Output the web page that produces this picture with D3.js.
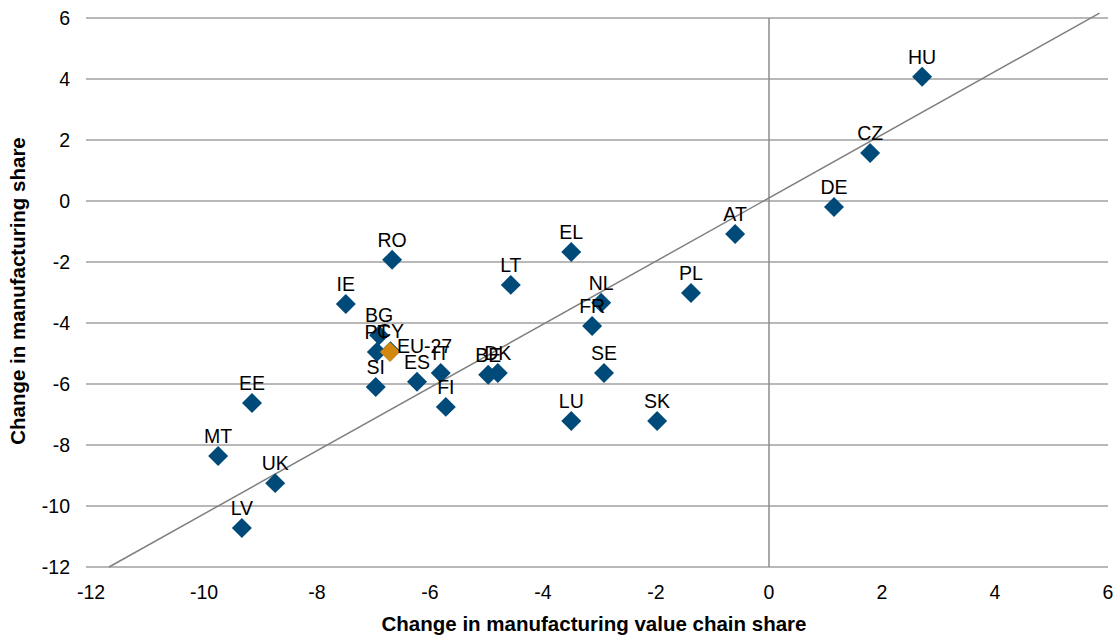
<!DOCTYPE html>
<html><head><meta charset="utf-8">
<script src="https://cdn.jsdelivr.net/npm/d3@7"></script>
<style>body{margin:0;background:#fff}svg{display:block}text{font-family:"Liberation Sans",Arial,sans-serif}</style>
</head><body><svg id="c" width="1120" height="635"></svg>
<script>
const countries = ["HU","CZ","DE","AT","PL","EL","LT","NL","FR","SE","SK","LU","RO","IE","BG","PT","CY","SI","ES","IT","FI","BE","DK","EE","MT","UK","LV"];
const valueChainShare = [2.71,1.79,1.15,-0.60,-1.38,-3.50,-4.57,-2.97,-3.13,-2.92,-1.98,-3.50,-6.67,-7.49,-6.90,-6.94,-6.70,-6.96,-6.23,-5.81,-5.72,-4.97,-4.80,-9.15,-9.75,-8.74,-9.33];
const manufShare = [4.07,1.57,-0.20,-1.08,-3.02,-1.67,-2.75,-3.34,-4.10,-5.64,-7.21,-7.21,-1.93,-3.38,-4.40,-4.95,-4.93,-6.10,-5.93,-5.64,-6.75,-5.70,-5.64,-6.62,-8.36,-9.25,-10.72];
const euLabel = ["EU-27"], euX = [-6.71], euY = [-4.95];
const refLineX = [-11.68, 5.85], refLineY = [-12, 6.16];
const xTicks = [-12,-10,-8,-6,-4,-2,0,2,4,6];
const yTicks = [-12,-10,-8,-6,-4,-2,0,2,4,6];

const svg = d3.select("#c");
const x = d3.scaleLinear().domain([-12,6]).range([91,1108]);
const y = d3.scaleLinear().domain([-12,6]).range([567,18]);
const FS = 19.5;

// horizontal gridlines
svg.append("g").selectAll("line").data(yTicks).join("line")
  .attr("x1",86).attr("x2",1108).attr("y1",d=>y(d)).attr("y2",d=>y(d))
  .attr("stroke","#a0a0a0").attr("stroke-width",1.5);
// vertical axis at 0
svg.append("line").attr("x1",x(0)).attr("x2",x(0)).attr("y1",y(6)).attr("y2",y(-12))
  .attr("stroke","#8c8c8c").attr("stroke-width",1.5);
// y tick labels
svg.append("g").selectAll("text").data(yTicks).join("text")
  .attr("x",70).attr("y",d=>y(d)).attr("dy","0.36em").attr("text-anchor","end")
  .attr("font-size",FS).text(d=>d);
// x tick labels
svg.append("g").selectAll("text").data(xTicks).join("text")
  .attr("x",d=>x(d)).attr("y",599).attr("text-anchor","middle")
  .attr("font-size",FS).text(d=>d);
// reference line
svg.append("line").attr("x1",x(refLineX[0])).attr("y1",y(refLineY[0]))
  .attr("x2",x(refLineX[1])).attr("y2",y(refLineY[1]))
  .attr("stroke","#808080").attr("stroke-width",1.5);

const diamond = d3.symbol().type(d3.symbolSquare).size(200);
const pts = countries.map((c,i)=>({c,x:valueChainShare[i],y:manufShare[i]}));
const g = svg.append("g");
g.selectAll("path.p").data(pts).join("path").attr("class","p")
  .attr("d",diamond).attr("transform",d=>`translate(${x(d.x)},${y(d.y)}) rotate(45)`)
  .attr("fill","#004a7a");
g.selectAll("path.e").data(euLabel).join("path").attr("class","e")
  .attr("d",diamond).attr("transform",(d,i)=>`translate(${x(euX[i])},${y(euY[i])}) rotate(45)`)
  .attr("fill","#d2870e");
g.selectAll("text.l").data(pts).join("text").attr("class","l")
  .attr("x",d=>x(d.x)).attr("y",d=>y(d.y)-13).attr("text-anchor","middle")
  .attr("font-size",FS).text(d=>d.c);
g.selectAll("text.el").data(euLabel).join("text").attr("class","el")
  .attr("x",(d,i)=>x(euX[i])+7).attr("y",(d,i)=>y(euY[i])+1)
  .attr("font-size",FS).text(d=>d);

svg.append("text").attr("x",594).attr("y",631).attr("text-anchor","middle")
  .attr("font-size",20.5).attr("font-weight","bold").text("Change in manufacturing value chain share");
svg.append("text").attr("transform","translate(25,291) rotate(-90)").attr("text-anchor","middle")
  .attr("font-size",20.5).attr("font-weight","bold").text("Change in manufacturing share");
</script></body></html>
